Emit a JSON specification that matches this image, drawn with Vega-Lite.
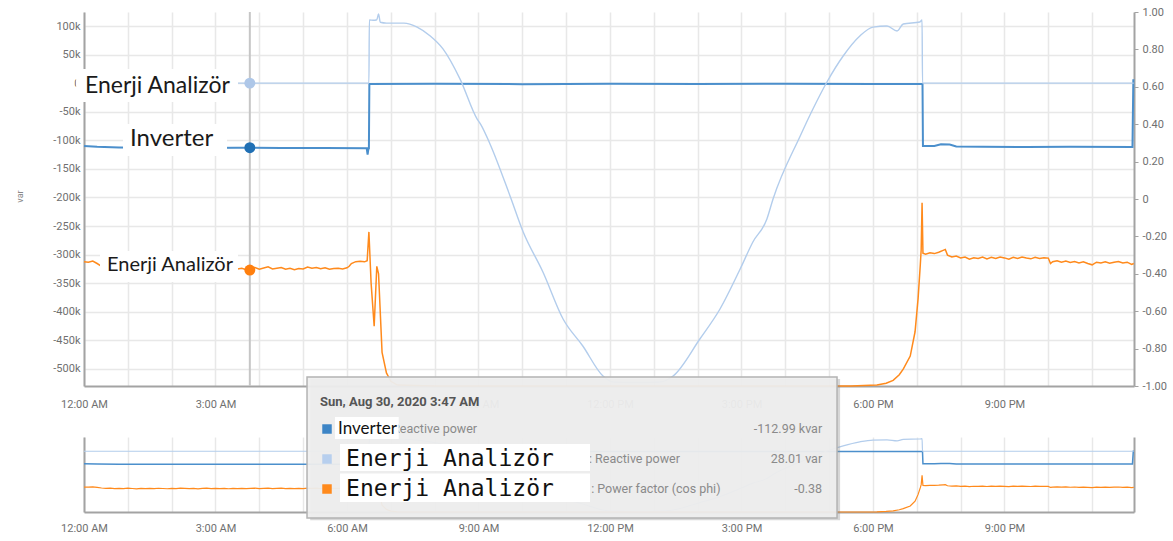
{
  "$schema": "https://vega.github.io/schema/vega-lite/v6.json",
  "background": "white",
  "padding": {"left": 15, "top": 6, "right": 0, "bottom": 0},
  "spacing": 51,
  "bounds": "flush",
  "config": {
    "view": {"stroke": null},
    "font": "Roboto",
    "axis": {"labelFont": "Roboto", "labelFontSize": 11, "labelColor": "#707070", "gridColor": "#e8e8e8", "gridWidth": 1.5, "domainColor": "#a3a3a3", "domainWidth": 2, "tickColor": "#a3a3a3"}
  },
  "datasets": {
    "inv": [
      {"h": 0, "v": -110000}, {"h": 0.3, "v": -111500}, {"h": 0.8, "v": -112500}, {"h": 1.5, "v": -113000}, {"h": 2.5, "v": -113500}, {"h": 3.5, "v": -113000}, {"h": 4.5, "v": -113500}, {"h": 5.5, "v": -113500}, {"h": 6.45, "v": -114000}, {"h": 6.47, "v": -125000}, {"h": 6.49, "v": -114000}, {"h": 6.5, "v": -114000}, {"h": 6.51, "v": -1500}, {"h": 8, "v": -1200}, {"h": 10, "v": -1800}, {"h": 12, "v": -1200}, {"h": 14, "v": -1500}, {"h": 16, "v": -1200}, {"h": 18, "v": -1500}, {"h": 19.13, "v": -1500}, {"h": 19.14, "v": -110000}, {"h": 19.4, "v": -110000}, {"h": 19.55, "v": -107000}, {"h": 19.75, "v": -107500}, {"h": 19.9, "v": -111000}, {"h": 20.5, "v": -111500}, {"h": 21.5, "v": -111800}, {"h": 22.5, "v": -111500}, {"h": 23.92, "v": -111800}, {"h": 23.94, "v": 7000}
    ],
    "ea": [
      {"h": 0, "v": 30}, {"h": 1, "v": 25}, {"h": 2, "v": 30}, {"h": 3, "v": 28}, {"h": 4, "v": 28}, {"h": 5, "v": 30}, {"h": 6.5, "v": 30}, {"h": 6.51, "v": 110500}, {"h": 6.6, "v": 110000}, {"h": 6.68, "v": 111000}, {"h": 6.72, "v": 121000}, {"h": 6.76, "v": 106500}, {"h": 6.9, "v": 105000}, {"h": 7.1, "v": 105000}, {"h": 7.3, "v": 105000}, {"h": 7.6, "v": 98000}, {"h": 7.9, "v": 82500}, {"h": 8.19, "v": 60000}, {"h": 8.58, "v": 7000}, {"h": 8.97, "v": -63000}, {"h": 9.05, "v": -72000}, {"h": 9.26, "v": -106000}, {"h": 9.72, "v": -197500}, {"h": 10.02, "v": -260500}, {"h": 10.47, "v": -330500}, {"h": 10.93, "v": -412750}, {"h": 11.38, "v": -460000}, {"h": 11.84, "v": -512500}, {"h": 12.07, "v": -523000}, {"h": 12.62, "v": -524000}, {"h": 13.14, "v": -523000}, {"h": 13.44, "v": -512500}, {"h": 14.05, "v": -447750}, {"h": 14.51, "v": -395250}, {"h": 14.97, "v": -325250}, {"h": 15.26, "v": -278000}, {"h": 15.58, "v": -237750}, {"h": 15.72, "v": -202750}, {"h": 16.34, "v": -92500}, {"h": 16.63, "v": -45250}, {"h": 16.95, "v": 2000}, {"h": 17.32, "v": 47500}, {"h": 17.7, "v": 82500}, {"h": 18.0, "v": 98000}, {"h": 18.32, "v": 100000}, {"h": 18.55, "v": 91250}, {"h": 18.69, "v": 103500}, {"h": 19.07, "v": 107000}, {"h": 19.12, "v": 110500}, {"h": 19.13, "v": 30}, {"h": 20, "v": 30}, {"h": 22, "v": 30}, {"h": 23.95, "v": 30}
    ],
    "pf": [
      {"h": 0.0, "pf": -0.335}, {"h": 0.1, "pf": -0.338}, {"h": 0.2, "pf": -0.332}, {"h": 0.3, "pf": -0.345}, {"h": 0.4, "pf": -0.36}, {"h": 0.5, "pf": -0.368}, {"h": 0.6, "pf": -0.365}, {"h": 0.7, "pf": -0.378}, {"h": 0.8, "pf": -0.369}, {"h": 0.9, "pf": -0.376}, {"h": 1.0, "pf": -0.366}, {"h": 1.1, "pf": -0.374}, {"h": 1.2, "pf": -0.381}, {"h": 1.3, "pf": -0.368}, {"h": 1.4, "pf": -0.375}, {"h": 1.5, "pf": -0.37}, {"h": 1.6, "pf": -0.379}, {"h": 1.7, "pf": -0.367}, {"h": 1.8, "pf": -0.373}, {"h": 1.9, "pf": -0.38}, {"h": 2.0, "pf": -0.369}, {"h": 2.1, "pf": -0.376}, {"h": 2.2, "pf": -0.364}, {"h": 2.3, "pf": -0.372}, {"h": 2.4, "pf": -0.378}, {"h": 2.5, "pf": -0.37}, {"h": 2.6, "pf": -0.382}, {"h": 2.7, "pf": -0.371}, {"h": 2.8, "pf": -0.366}, {"h": 2.9, "pf": -0.375}, {"h": 3.0, "pf": -0.369}, {"h": 3.1, "pf": -0.377}, {"h": 3.2, "pf": -0.372}, {"h": 3.3, "pf": -0.38}, {"h": 3.4, "pf": -0.368}, {"h": 3.5, "pf": -0.374}, {"h": 3.6, "pf": -0.37}, {"h": 3.7, "pf": -0.378}, {"h": 3.8, "pf": -0.372}, {"h": 3.9, "pf": -0.366}, {"h": 4.0, "pf": -0.375}, {"h": 4.1, "pf": -0.369}, {"h": 4.2, "pf": -0.363}, {"h": 4.3, "pf": -0.374}, {"h": 4.4, "pf": -0.37}, {"h": 4.5, "pf": -0.366}, {"h": 4.6, "pf": -0.376}, {"h": 4.7, "pf": -0.371}, {"h": 4.8, "pf": -0.378}, {"h": 4.9, "pf": -0.372}, {"h": 5.0, "pf": -0.374}, {"h": 5.1, "pf": -0.364}, {"h": 5.2, "pf": -0.37}, {"h": 5.3, "pf": -0.366}, {"h": 5.4, "pf": -0.373}, {"h": 5.5, "pf": -0.368}, {"h": 5.6, "pf": -0.376}, {"h": 5.7, "pf": -0.372}, {"h": 5.8, "pf": -0.37}, {"h": 5.9, "pf": -0.374}, {"h": 6.0, "pf": -0.368}, {"h": 6.05, "pf": -0.36}, {"h": 6.1, "pf": -0.345}, {"h": 6.2, "pf": -0.335}, {"h": 6.3, "pf": -0.333}, {"h": 6.4, "pf": -0.336}, {"h": 6.46, "pf": -0.33}, {"h": 6.5, "pf": -0.176}, {"h": 6.55, "pf": -0.45}, {"h": 6.62, "pf": -0.68}, {"h": 6.68, "pf": -0.36}, {"h": 6.72, "pf": -0.4}, {"h": 6.8, "pf": -0.82}, {"h": 6.9, "pf": -0.93}, {"h": 7.0, "pf": -0.975}, {"h": 7.15, "pf": -0.995}, {"h": 8, "pf": -1}, {"h": 12, "pf": -1}, {"h": 17.5, "pf": -1}, {"h": 18.09, "pf": -0.995}, {"h": 18.3, "pf": -0.985}, {"h": 18.46, "pf": -0.97}, {"h": 18.6, "pf": -0.94}, {"h": 18.69, "pf": -0.91}, {"h": 18.85, "pf": -0.84}, {"h": 18.96, "pf": -0.71}, {"h": 19.03, "pf": -0.53}, {"h": 19.08, "pf": -0.35}, {"h": 19.1, "pf": -0.27}, {"h": 19.12, "pf": -0.02}, {"h": 19.14, "pf": -0.29}, {"h": 19.2, "pf": -0.295}, {"h": 19.3, "pf": -0.288}, {"h": 19.4, "pf": -0.292}, {"h": 19.5, "pf": -0.285}, {"h": 19.6, "pf": -0.275}, {"h": 19.65, "pf": -0.27}, {"h": 19.7, "pf": -0.3}, {"h": 19.8, "pf": -0.31}, {"h": 19.9, "pf": -0.305}, {"h": 20.0, "pf": -0.315}, {"h": 20.1, "pf": -0.31}, {"h": 20.2, "pf": -0.322}, {"h": 20.3, "pf": -0.314}, {"h": 20.4, "pf": -0.318}, {"h": 20.5, "pf": -0.31}, {"h": 20.6, "pf": -0.32}, {"h": 20.7, "pf": -0.312}, {"h": 20.8, "pf": -0.318}, {"h": 20.9, "pf": -0.31}, {"h": 21.0, "pf": -0.315}, {"h": 21.1, "pf": -0.322}, {"h": 21.2, "pf": -0.312}, {"h": 21.3, "pf": -0.318}, {"h": 21.4, "pf": -0.31}, {"h": 21.5, "pf": -0.316}, {"h": 21.6, "pf": -0.32}, {"h": 21.7, "pf": -0.312}, {"h": 21.8, "pf": -0.318}, {"h": 21.9, "pf": -0.314}, {"h": 22.0, "pf": -0.316}, {"h": 22.05, "pf": -0.345}, {"h": 22.1, "pf": -0.335}, {"h": 22.2, "pf": -0.33}, {"h": 22.3, "pf": -0.338}, {"h": 22.4, "pf": -0.332}, {"h": 22.5, "pf": -0.34}, {"h": 22.6, "pf": -0.334}, {"h": 22.7, "pf": -0.342}, {"h": 22.8, "pf": -0.336}, {"h": 22.9, "pf": -0.345}, {"h": 23.0, "pf": -0.352}, {"h": 23.1, "pf": -0.338}, {"h": 23.2, "pf": -0.342}, {"h": 23.3, "pf": -0.336}, {"h": 23.4, "pf": -0.344}, {"h": 23.5, "pf": -0.338}, {"h": 23.6, "pf": -0.334}, {"h": 23.7, "pf": -0.342}, {"h": 23.8, "pf": -0.338}, {"h": 23.9, "pf": -0.35}, {"h": 23.95, "pf": -0.345}
    ]
  },
  "vconcat": [
    {
      "width": 1050,
      "height": 374,
      "encoding": {
        "x": {"field": "h", "type": "quantitative", "scale": {"domain": [0, 23.955], "nice": false, "zero": false},
          "axis": {"title": null, "values": [0,1,2,3,4,5,6,7,8,9,10,11,12,13,14,15,16,17,18,19,20,21,22,23], "labelExpr": "datum.value % 3 == 0 ? ((datum.value % 12 == 0 ? 12 : datum.value % 12) + ':00 ' + (datum.value < 12 ? 'AM' : 'PM')) : ''", "grid": true, "ticks": false, "labelPadding": 12, "labelFlush": false, "labelOverlap": false}}
      },
      "layer": [
        {"data": {"values": [{"h": 3.783}]}, "mark": {"type": "rule", "color": "#c6c6c6", "strokeWidth": 2}},
        {
          "encoding": {"y": {"field": "v", "type": "quantitative", "scale": {"domain": [-530000, 124500], "nice": false, "zero": false},
            "axis": {"orient": "left", "title": "var", "titleFontSize": 9, "titleFontWeight": "normal", "titleColor": "#888", "titleX": -60, "titleY": 184,
              "values": [-500000,-450000,-400000,-350000,-300000,-250000,-200000,-150000,-100000,-50000,0,50000,100000],
              "labelExpr": "datum.value == 0 ? '0' : (datum.value / 1000) + 'k'", "grid": true, "ticks": false, "labelPadding": 4, "labelOverlap": false}}},
          "layer": [
            {"data": {"name": "inv"}, "mark": {"type": "line", "color": "#4b8fcc", "strokeWidth": 2}},
            {"data": {"name": "ea"}, "mark": {"type": "line", "color": "#b3cdec", "strokeWidth": 1.4, "interpolate": "monotone"}},
            {"data": {"values": [{"h": 3.783, "v": 28}]}, "mark": {"type": "point", "filled": true, "color": "#aec7e8", "size": 120, "opacity": 1}},
            {"data": {"values": [{"h": 3.783, "v": -112990}]}, "mark": {"type": "point", "filled": true, "color": "#1f6fb4", "size": 120, "opacity": 1}}
          ]
        },
        {
          "encoding": {"y": {"field": "pf", "type": "quantitative", "scale": {"domain": [-1, 1], "nice": false, "zero": false},
            "axis": {"orient": "right", "title": null, "values": [-1,-0.8,-0.6,-0.4,-0.2,0,0.2,0.4,0.6,0.8,1],
              "labelExpr": "datum.value == 0 ? '0' : (datum.value < 0 ? '-' : '') + format(abs(datum.value), '.2f')", "grid": false, "ticks": true, "tickSize": 4, "labelPadding": 4, "labelOverlap": false}}},
          "layer": [
            {"data": {"name": "pf"}, "mark": {"type": "line", "color": "#ff8a1c", "strokeWidth": 1.5}},
            {"data": {"values": [{"h": 3.783, "pf": -0.38}]}, "mark": {"type": "point", "filled": true, "color": "#ff7f0e", "size": 120, "opacity": 1}},
            {"data": {"values": [
              {"h": -0.18, "h2": 3.514, "pf": 0.695, "pf2": 0.519},
              {"h": 0.89, "h2": 3.263, "pf": 0.401, "pf2": 0.23},
              {"h": 0.365, "h2": 3.514, "pf": -0.278, "pf2": -0.444}
            ]}, "mark": {"type": "rect", "color": "white", "opacity": 1}, "encoding": {"x2": {"field": "h2"}, "y2": {"field": "pf2"}}},
            {"data": {"values": [{"h": 0.023, "pf": 0.604, "t": "Enerji Analizör"}]}, "mark": {"type": "text", "align": "left", "baseline": "middle", "font": "Lato", "fontSize": 23, "color": "#1a1a1a"}, "encoding": {"text": {"field": "t"}}},
            {"data": {"values": [{"h": 1.05, "pf": 0.321, "t": "Inverter"}]}, "mark": {"type": "text", "align": "left", "baseline": "middle", "font": "Lato", "fontSize": 24, "color": "#1a1a1a"}, "encoding": {"text": {"field": "t"}}},
            {"data": {"values": [{"h": 0.525, "pf": -0.353, "t": "Enerji Analizör"}]}, "mark": {"type": "text", "align": "left", "baseline": "middle", "font": "Lato", "fontSize": 20, "color": "#1a1a1a"}, "encoding": {"text": {"field": "t"}}}
          ]
        }
      ],
      "resolve": {"scale": {"y": "independent"}}
    },
    {
      "width": 1050,
      "height": 75,
      "encoding": {
        "x": {"field": "h", "type": "quantitative", "scale": {"domain": [0, 23.955], "nice": false, "zero": false},
          "axis": {"title": null, "values": [0,1,2,3,4,5,6,7,8,9,10,11,12,13,14,15,16,17,18,19,20,21,22,23], "labelExpr": "datum.value % 3 == 0 ? ((datum.value % 12 == 0 ? 12 : datum.value % 12) + ':00 ' + (datum.value < 12 ? 'AM' : 'PM')) : ''", "grid": true, "ticks": false, "labelPadding": 10, "labelFlush": false, "labelOverlap": false}}
      },
      "layer": [
        {
          "encoding": {"y": {"field": "v", "type": "quantitative", "scale": {"domain": [-530000, 124500], "nice": false, "zero": false},
            "axis": {"orient": "left", "title": null, "labels": false, "ticks": false, "grid": false}}},
          "layer": [
            {"data": {"name": "inv"}, "mark": {"type": "line", "color": "#4b8fcc", "strokeWidth": 1.5}},
            {"data": {"name": "ea"}, "mark": {"type": "line", "color": "#b3cdec", "strokeWidth": 1.2, "interpolate": "monotone"}}
          ]
        },
        {
          "encoding": {"y": {"field": "pf", "type": "quantitative", "scale": {"domain": [-1, 1], "nice": false, "zero": false},
            "axis": {"orient": "right", "title": null, "labels": false, "ticks": false, "grid": false}}},
          "layer": [
            {"data": {"name": "pf"}, "mark": {"type": "line", "color": "#ff8a1c", "strokeWidth": 1.2}},
            {"data": {"values": [{"h": 5.16, "h2": 17.25, "pf": 2.55, "pf2": -1.22}]}, "mark": {"type": "rect", "color": "#8c8c8c", "opacity": 0.35}, "encoding": {"x2": {"field": "h2"}, "y2": {"field": "pf2"}}},
            {"data": {"values": [{"h": 5.088, "h2": 17.18, "pf": 2.6, "pf2": -1.16}]}, "mark": {"type": "rect", "fill": "#efefef", "fillOpacity": 0.93, "stroke": "#b3b3b3", "strokeWidth": 1.5}, "encoding": {"x2": {"field": "h2"}, "y2": {"field": "pf2"}}},
            {"data": {"values": [{"h": 5.544, "pf": 1.213}]}, "mark": {"type": "point", "shape": "square", "filled": true, "color": "#3d85c6", "size": 90, "opacity": 1}},
            {"data": {"values": [{"h": 5.544, "pf": 0.413}]}, "mark": {"type": "point", "shape": "square", "filled": true, "color": "#b7cfee", "size": 90, "opacity": 1}},
            {"data": {"values": [{"h": 5.544, "pf": -0.387}]}, "mark": {"type": "point", "shape": "square", "filled": true, "color": "#ff8a1c", "size": 90, "opacity": 1}},
            {"data": {"values": [
              {"h": 7.03, "pf": 1.213, "t": "Reactive power"},
              {"h": 11.52, "pf": 0.413, "t": ": Reactive power"},
              {"h": 11.57, "pf": -0.387, "t": ": Power factor (cos phi)"}
            ]}, "mark": {"type": "text", "align": "left", "baseline": "middle", "font": "Roboto", "fontSize": 12.5, "color": "#8a8a8a"}, "encoding": {"text": {"field": "t"}}},
            {"data": {"values": [
              {"h": 16.84, "pf": 1.213, "t": "-112.99 kvar"},
              {"h": 16.84, "pf": 0.413, "t": "28.01 var"},
              {"h": 16.84, "pf": -0.387, "t": "-0.38"}
            ]}, "mark": {"type": "text", "align": "right", "baseline": "middle", "font": "Roboto", "fontSize": 12.5, "color": "#8a8a8a"}, "encoding": {"text": {"field": "t"}}},
            {"data": {"values": [{"h": 5.385, "pf": 1.933, "t": "Sun, Aug 30, 2020 3:47 AM"}]}, "mark": {"type": "text", "align": "left", "baseline": "middle", "font": "Roboto", "fontSize": 13, "fontWeight": "bold", "color": "#555555"}, "encoding": {"text": {"field": "t"}}},
            {"data": {"values": [
              {"h": 5.727, "h2": 7.18, "pf": 1.533, "pf2": 0.947},
              {"h": 5.84, "h2": 11.545, "pf": 0.813, "pf2": 0.093},
              {"h": 5.84, "h2": 11.545, "pf": 0.027, "pf2": -0.733}
            ]}, "mark": {"type": "rect", "color": "white", "opacity": 1}, "encoding": {"x2": {"field": "h2"}, "y2": {"field": "pf2"}}},
            {"data": {"values": [{"h": 5.795, "pf": 1.213, "t": "Inverter"}]}, "mark": {"type": "text", "align": "left", "baseline": "middle", "font": "Lato", "fontSize": 17, "color": "#111111"}, "encoding": {"text": {"field": "t"}}},
            {"data": {"values": [
              {"h": 5.98, "pf": 0.413, "t": "Enerji Analizör"},
              {"h": 5.98, "pf": -0.387, "t": "Enerji Analizör"}
            ]}, "mark": {"type": "text", "align": "left", "baseline": "middle", "font": "DejaVu Sans Mono", "fontSize": 23, "color": "#111111"}, "encoding": {"text": {"field": "t"}}}
          ]
        }
      ],
      "resolve": {"scale": {"y": "independent"}}
    }
  ]
}
